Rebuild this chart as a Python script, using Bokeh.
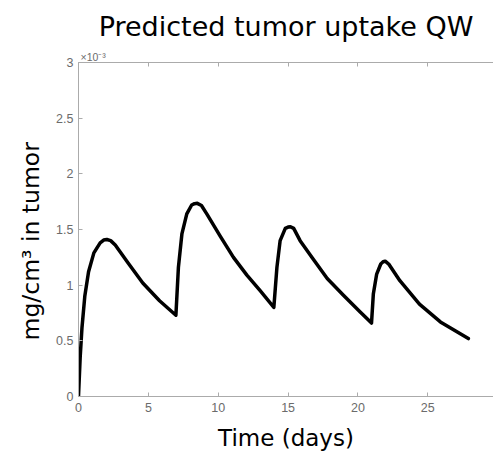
from bokeh.plotting import figure
from bokeh.models import Range1d, LinearAxis, FixedTicker, Title
from bokeh.embed import file_html
from bokeh.resources import INLINE

# ---- data ----
time_days = [0, 0.12, 0.25, 0.45, 0.72, 1.1, 1.55, 1.8, 2.03, 2.3, 2.63, 3.55, 4.6, 5.8,
             6.97, 7.15, 7.4, 7.75, 8.1, 8.3, 8.5, 8.8, 9.18, 10.14, 11.09, 12.05, 13.0,
             13.98, 14.2, 14.43, 14.8, 15.0, 15.17, 15.4, 15.86, 16.7, 17.8, 18.96, 20.16,
             20.97, 21.1, 21.34, 21.63, 21.8, 21.95, 22.2, 23.0, 24.4, 25.9, 27.9]
# tumor concentration in units of 1e-3 mg/cm^3
uptake_e3 = [0, 0.35, 0.62, 0.90, 1.12, 1.29, 1.38, 1.405, 1.41, 1.40, 1.36, 1.20, 1.02, 0.86,
             0.73, 1.16, 1.46, 1.64, 1.72, 1.732, 1.735, 1.715, 1.64, 1.44, 1.25, 1.09, 0.95,
             0.80, 1.16, 1.40, 1.51, 1.522, 1.525, 1.51, 1.40, 1.25, 1.06, 0.91, 0.76,
             0.66, 0.92, 1.10, 1.19, 1.21, 1.215, 1.19, 1.04, 0.83, 0.67, 0.52]

x_ticks = [0, 5, 10, 15, 20, 25, 30]
y_ticks = [0, 0.5, 1, 1.5, 2, 2.5, 3]
y_tick_labels = ["0", "0.5", "1", "1.5", "2", "2.5", "3"]

title_text = "Predicted tumor uptake QW"
x_label = "Time (days)"
y_label = "mg/cm\u00b3 in tumor"
exp_label = "\u00d710\u207b\u00b3"

AXIS_COL = "#ababab"
TICK_COL = "#6b6b6b"

p = figure(width=493, height=454, output_backend="svg", toolbar_location=None,
           x_range=Range1d(0, 29.7), y_range=Range1d(0, 3),
           min_border_left=78, min_border_right=0, min_border_top=62,
           min_border_bottom=58)
p.outline_line_color = None
p.background_fill_color = "white"
p.border_fill_color = "white"
p.grid.visible = False

p.title.text = title_text
p.title.align = "center"
p.title.text_font = "DejaVu Sans"
p.title.text_font_size = "27px"
p.title.text_font_style = "normal"
p.title.text_color = "black"
p.title.standoff = 13


def style_axis(ax):
    ax.axis_line_color = AXIS_COL
    ax.axis_line_width = 1
    ax.major_tick_line_color = AXIS_COL
    ax.major_tick_in = 4
    ax.major_tick_out = 0
    ax.minor_tick_line_color = None
    ax.major_label_text_font = "Liberation Sans"
    ax.major_label_text_font_size = "12.5px"
    ax.major_label_text_color = TICK_COL


xa = p.xaxis[0]
style_axis(xa)
xa.ticker = FixedTicker(ticks=x_ticks)
xa.major_label_standoff = 6
xa.axis_label = x_label
xa.axis_label_text_font = "DejaVu Sans"
xa.axis_label_text_font_size = "23px"
xa.axis_label_text_font_style = "normal"
xa.axis_label_text_color = "black"
xa.axis_label_standoff = 10

ya = p.yaxis[0]
style_axis(ya)
ya.ticker = FixedTicker(ticks=y_ticks)
ya.major_label_overrides = {t: s for t, s in zip(y_ticks, y_tick_labels)}
ya.major_label_standoff = 5

top = LinearAxis(ticker=FixedTicker(ticks=x_ticks))
style_axis(top)
top.major_label_text_font_size = "0px"
top.major_label_text_color = None
top.major_label_standoff = 0
p.add_layout(top, "above")

# multiplier note above the top-left corner
exp_title = Title(text=exp_label, align="left", offset=2, standoff=0,
                  text_font="Liberation Sans", text_font_size="10.5px",
                  text_font_style="normal", text_color=TICK_COL)
p.add_layout(exp_title, "above")

# y-axis label as a left-side title (placed like the reference)
ylab = Title(text=y_label, align="left", offset=56, standoff=17,
             text_font="DejaVu Sans", text_font_size="23.5px",
             text_font_style="normal", text_color="black")
p.add_layout(ylab, "left")

p.line(time_days, uptake_e3, line_color="black", line_width=3.5,
       line_join="round", line_cap="round")

open("out.html", "w").write(file_html(p, INLINE))
